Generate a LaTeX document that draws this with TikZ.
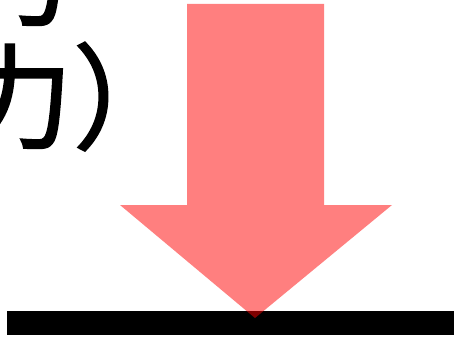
\documentclass[tikz,border=0pt]{standalone}
\usepackage{fontspec}
\newfontfamily\jpfont[FakeBold=1.5]{Noto Sans CJK JP}
\usepackage{tikz}
\usetikzlibrary{positioning}

\begin{document}
\begin{tikzpicture}[
  x=0.02cm, y=-0.02cm,
  label/.style={inner sep=0pt, outer sep=0pt, font=\jpfont\fontsize{65pt}{65pt}\selectfont},
  force/.style={fill=red, fill opacity=0.5, draw=none},
  ground/.style={fill=black, draw=none}
]
\useasboundingbox (0,0) rectangle (454,338);
\clip (0,0) rectangle (454,338);

% cut-off caption
\node[label, anchor=base east] (toptext) at (72,17)  {力};
\node[label, anchor=base east] (bottext) at (187,140) {力）};

% floor
\fill[ground] (7,311) rectangle (454,335);

% big arrow
\fill[force] (187,4) -- (324,4) -- (324,205) -- (392,205)
  -- (255,318) -- (120,205) -- (187,205) -- cycle;
\end{tikzpicture}
\end{document}
